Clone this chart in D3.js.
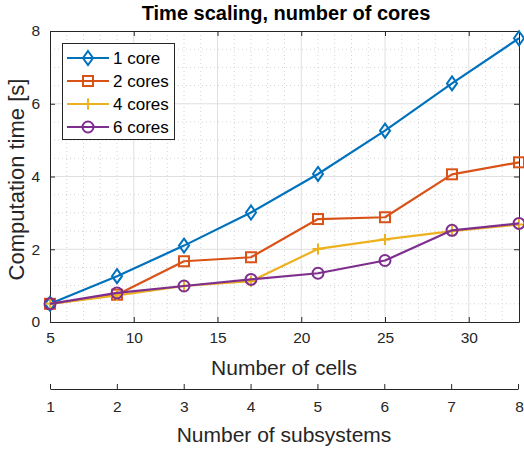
<!DOCTYPE html>
<html><head><meta charset="utf-8">
<script src="https://cdn.jsdelivr.net/npm/d3@7"></script>
<style>body{margin:0;background:#fff;} svg{display:block;font-family:"Liberation Sans",Arial,Helvetica,sans-serif;}</style>
</head><body>
<svg id="c" width="524" height="452"></svg>
<script>
const cells = [5, 9, 13, 17, 21, 25, 29, 33];
const subsystems = [1, 2, 3, 4, 5, 6, 7, 8];
const core1 = [0.50, 1.26, 2.10, 3.01, 4.07, 5.26, 6.56, 7.80];
const cores2 = [0.50, 0.75, 1.67, 1.78, 2.83, 2.88, 4.06, 4.39];
const cores4 = [0.50, 0.73, 0.99, 1.12, 2.01, 2.27, 2.50, 2.68];
const cores6 = [0.50, 0.80, 0.99, 1.17, 1.34, 1.69, 2.52, 2.71];
const seriesNames = ["1 core", "2 cores", "4 cores", "6 cores"];
const seriesColors = ["#0072BD", "#D95319", "#EDB120", "#7E2F8E"];
const seriesMarkers = ["diamond", "square", "plus", "circle"];
const xTicks = [5, 10, 15, 20, 25, 30];
const yTicks = [0, 2, 4, 6, 8];

const series = [core1, cores2, cores4, cores6].map((v, i) => ({
  name: seriesNames[i], color: seriesColors[i], marker: seriesMarkers[i],
  pts: cells.map((c, j) => [c, v[j]])
}));

const svg = d3.select("#c");
const L = 50, R = 519, T = 31, B = 322;
const x = d3.scaleLinear().domain([5, 33]).range([L, R]);
const y = d3.scaleLinear().domain([0, 8]).range([B, T]);
const x2 = d3.scaleLinear().domain([1, 8]).range([L, R - 1]);
const axisColor = "#262626";
const tickFont = "15.5px";

// minor grid
const g = svg.append("g");
g.selectAll(".mx").data(d3.range(6, 33, 1).filter(v => v % 5 !== 0)).enter().append("line")
  .attr("x1", d => x(d)).attr("x2", d => x(d)).attr("y1", T).attr("y2", B)
  .attr("stroke", "#d4d4d4").attr("stroke-width", 1).attr("stroke-dasharray", "1,3");
g.selectAll(".my").data(d3.range(0.5, 8, 0.5).filter(v => v % 2 !== 0)).enter().append("line")
  .attr("y1", d => y(d)).attr("y2", d => y(d)).attr("x1", L).attr("x2", R)
  .attr("stroke", "#d4d4d4").attr("stroke-width", 1).attr("stroke-dasharray", "1,3");
// major grid
g.selectAll(".Mx").data(xTicks.slice(1)).enter().append("line")
  .attr("x1", d => x(d)).attr("x2", d => x(d)).attr("y1", T).attr("y2", B)
  .attr("stroke", "#e0e0e0").attr("stroke-width", 1);
g.selectAll(".My").data(yTicks.slice(1, -1)).enter().append("line")
  .attr("y1", d => y(d)).attr("y2", d => y(d)).attr("x1", L).attr("x2", R)
  .attr("stroke", "#e0e0e0").attr("stroke-width", 1);

// axes
function styleAxis(sel) {
  sel.select(".domain").attr("stroke", axisColor);
  sel.selectAll(".tick line").attr("stroke", axisColor);
  sel.selectAll(".tick text").attr("fill", axisColor).style("font-size", tickFont)
     .style("font-family", '"Liberation Sans",Arial,sans-serif');
}
const xb = svg.append("g").attr("transform", `translate(0,${B})`)
  .call(d3.axisBottom(x).tickValues(xTicks).tickSizeInner(-5).tickSizeOuter(0).tickPadding(10));
styleAxis(xb);
const xt = svg.append("g").attr("transform", `translate(0,${T})`)
  .call(d3.axisTop(x).tickValues(xTicks).tickSizeInner(-5).tickSizeOuter(0).tickFormat(""));
styleAxis(xt);
const yl = svg.append("g").attr("transform", `translate(${L},0)`)
  .call(d3.axisLeft(y).tickValues(yTicks).tickSizeInner(-5).tickSizeOuter(0).tickPadding(10));
styleAxis(yl);
const yr = svg.append("g").attr("transform", `translate(${R},0)`)
  .call(d3.axisRight(y).tickValues(yTicks).tickSizeInner(-5).tickSizeOuter(0).tickFormat(""));
styleAxis(yr);

// secondary axis
const sa = svg.append("g").attr("transform", `translate(0,389)`)
  .call(d3.axisBottom(x2).tickValues(subsystems).tickFormat(d3.format("d"))
    .tickSizeInner(-5).tickSizeOuter(0).tickPadding(12));
styleAxis(sa);
sa.selectAll(".tick text").filter(d => d === 8).attr("text-anchor", "end").attr("dx", "0.35em");

// lines & markers
const line = d3.line().x(d => x(d[0])).y(d => y(d[1]));
function drawMarker(sel, type, color, cx, cy) {
  if (type === "diamond") {
    sel.append("path").attr("d", `M${cx},${cy-7}L${cx+5},${cy}L${cx},${cy+7}L${cx-5},${cy}Z`)
      .attr("fill", "none").attr("stroke", color).attr("stroke-width", 2);
  } else if (type === "square") {
    sel.append("rect").attr("x", cx-5).attr("y", cy-5).attr("width", 10).attr("height", 10)
      .attr("fill", "none").attr("stroke", color).attr("stroke-width", 2);
  } else if (type === "plus") {
    sel.append("path").attr("d", `M${cx-5.5},${cy}H${cx+5.5}M${cx},${cy-5.5}V${cy+5.5}`)
      .attr("fill", "none").attr("stroke", color).attr("stroke-width", 2);
  } else {
    sel.append("circle").attr("cx", cx).attr("cy", cy).attr("r", 5.5)
      .attr("fill", "none").attr("stroke", color).attr("stroke-width", 2);
  }
}
series.forEach(s => {
  const gs = svg.append("g");
  gs.append("path").datum(s.pts).attr("d", line).attr("fill", "none")
    .attr("stroke", s.color).attr("stroke-width", 2.2).attr("stroke-linejoin", "round");
  s.pts.forEach(p => drawMarker(gs, s.marker, s.color, x(p[0]), y(p[1])));
});

// legend
const lg = svg.append("g");
lg.append("rect").attr("x", 62.5).attr("y", 43.5).attr("width", 112).attr("height", 96)
  .attr("fill", "#fff").attr("stroke", axisColor).attr("stroke-width", 1);
series.forEach((s, i) => {
  const yy = 58 + i * 23;
  lg.append("line").attr("x1", 67).attr("x2", 109).attr("y1", yy).attr("y2", yy)
    .attr("stroke", s.color).attr("stroke-width", 2.2);
  drawMarker(lg, s.marker, s.color, 88, yy);
  lg.append("text").attr("x", 113).attr("y", yy + 6).text(s.name)
    .style("font-size", "17px").attr("fill", "#000");
});

// labels
svg.append("text").attr("x", 286).attr("y", 20).attr("text-anchor", "middle")
  .style("font-size", "20px").style("font-weight", "bold").attr("fill", "#000")
  .text("Time scaling, number of cores");
svg.append("text").attr("x", 284).attr("y", 375).attr("text-anchor", "middle")
  .style("font-size", "21px").attr("fill", axisColor).text("Number of cells");
svg.append("text").attr("x", 284).attr("y", 442).attr("text-anchor", "middle")
  .style("font-size", "21px").attr("fill", axisColor).text("Number of subsystems");
svg.append("text").attr("transform", `translate(24,${(T + B) / 2 + 3}) rotate(-90)`)
  .attr("text-anchor", "middle").style("font-size", "22px").attr("fill", axisColor)
  .text("Computation time [s]");
</script>
</body></html>
